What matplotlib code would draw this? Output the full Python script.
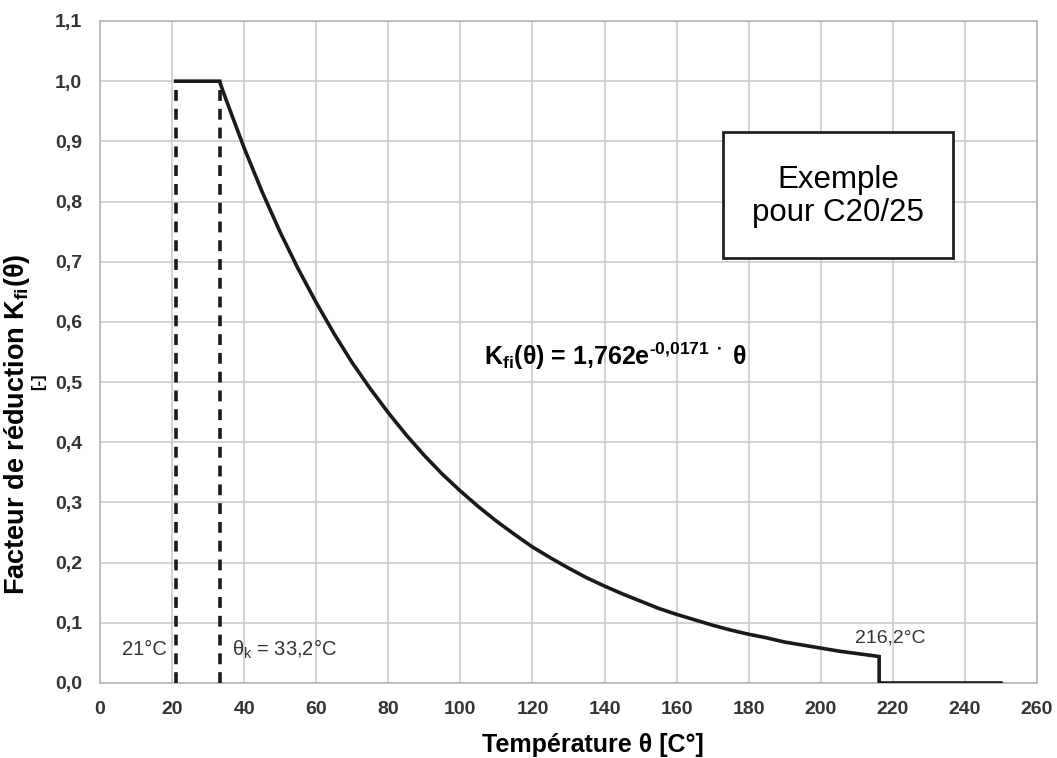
import matplotlib
matplotlib.use("Agg")
import matplotlib.pyplot as plt
from matplotlib.patches import Rectangle
from matplotlib.ticker import FuncFormatter

plt.rcParams['font.family'] = ['Liberation Sans', 'DejaVu Sans']
plt.rcParams['mathtext.fontset'] = 'custom'
plt.rcParams['mathtext.rm'] = 'Liberation Sans:bold'
plt.rcParams['mathtext.bf'] = 'Liberation Sans:bold'

# ---- data ----
temp_flat = [21.0, 33.2]
kfi_flat = [1.0, 1.0]

temp_curve = [33.2, 35, 40, 45, 50, 55, 60, 65, 70, 75, 80, 85, 90, 95, 100,
              105, 110, 115, 120, 125, 130, 135, 140, 145, 150, 155, 160, 165,
              170, 175, 180, 185, 190, 195, 200, 205, 210, 215, 216.2]
kfi_curve = [0.999, 0.969, 0.889, 0.816, 0.749, 0.688, 0.632, 0.580, 0.532,
             0.489, 0.449, 0.412, 0.378, 0.347, 0.319, 0.293, 0.269, 0.247,
             0.226, 0.208, 0.191, 0.175, 0.161, 0.148, 0.136, 0.124, 0.114,
             0.105, 0.096, 0.088, 0.081, 0.075, 0.068, 0.063, 0.058, 0.053,
             0.049, 0.045, 0.044]

temp_zero = [216.2, 216.2, 250.0]
kfi_zero = [0.044, 0.0, 0.0]

dashed_temps = [21.0, 33.2]
dashed_top = 1.0

x_ticks = list(range(0, 261, 20))
y_ticks = [i / 10 for i in range(0, 12)]

# ---- figure ----
W, H = 1057, 758
fig = plt.figure(figsize=(W / 100, H / 100), dpi=100)
ax = fig.add_axes([100 / W, 1 - 683 / H, (1037 - 100) / W, (683 - 21) / H])

ax.set_xlim(0, 260)
ax.set_ylim(0, 1.1)
ax.set_xticks(x_ticks)
ax.set_yticks(y_ticks)
ax.yaxis.set_major_formatter(FuncFormatter(lambda v, p: f"{v:.1f}".replace(".", ",")))
ax.xaxis.set_major_formatter(FuncFormatter(lambda v, p: f"{int(round(v))}"))
ax.tick_params(length=0, labelsize=14, labelcolor='#333333', pad=13)
for lab in ax.get_xticklabels() + ax.get_yticklabels():
    lab.set_fontweight('bold')

ax.grid(True, color='#c8c8c8', lw=1.1)
ax.set_axisbelow(True)
for s in ax.spines.values():
    s.set_color('#b0b0b0')
    s.set_linewidth(1.1)

# main curve
temps = temp_flat + temp_curve + temp_zero
kfis = kfi_flat + kfi_curve + kfi_zero
ax.plot(temps, kfis, color='#1a1a1a', lw=2.6, solid_joinstyle='miter', zorder=3)

# dashed verticals
for t in dashed_temps:
    ax.plot([t, t], [0, dashed_top], color='#1a1a1a', lw=2.6,
            dashes=(3, 2.2), zorder=3)

# annotations
ax.text(18.5, 0.056, "21°C", ha='right', va='center', fontsize=14.5, color='#333333')
ax.text(36.5, 0.056, r"$\mathregular{\theta_k}$ = 33,2°C", ha='left', va='center',
        fontsize=14.5, color='#333333')
ax.text(219.2, 0.074, "216,2°C", ha='center', va='center', fontsize=14, color='#333333')

ax.text(106.5, 0.543,
        r"$\mathregular{K_{fi}(\theta)}$ = 1,762e$^{\text{-0,0171 }\bullet}$ θ",
        ha='left', va='center', fontsize=18, fontweight='bold', color='black', zorder=4)

# box
ax.add_patch(Rectangle((172.9, 0.706), 236.7 - 172.9, 0.915 - 0.706,
                       facecolor='white', edgecolor='#222222', lw=2, zorder=4))
ax.text(204.8, 0.808, "Exemple\npour C20/25", ha='center', va='center',
        fontsize=22.5, color='black', linespacing=1.12, zorder=5)

# axis labels
fig.text(593 / W, 1 - 745 / H, "Température θ [C°]", ha='center', va='center',
         fontsize=18, fontweight='bold', color='black')

fig.text(32 / W, 1 - 424 / H, r"Facteur de réduction $\mathregular{K_{fi}(\theta)}$",
         rotation=90, ha='right', va='center', fontsize=19.5, fontweight='bold')
fig.text(46 / W, 1 - 382 / H, "[-]", rotation=90, ha='right', va='center',
         fontsize=12, fontweight='bold')

fig.savefig("out.png", dpi=100, facecolor='white')
